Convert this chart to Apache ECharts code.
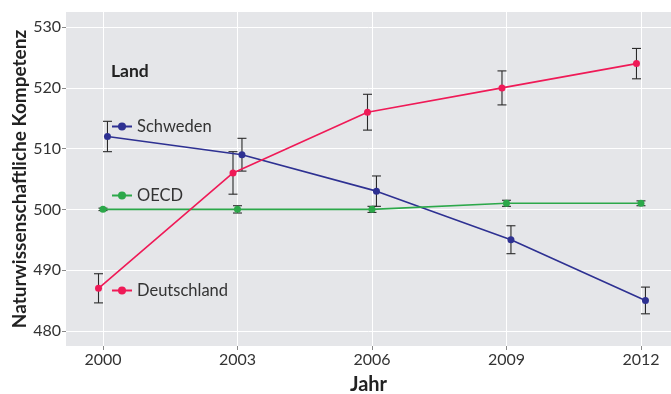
<!DOCTYPE html>
<html><head><meta charset="utf-8">
<script src="https://cdn.jsdelivr.net/npm/echarts@6/dist/echarts.min.js"></script>
<style>html,body{margin:0;padding:0;background:#fff}#c{width:671px;height:394px}</style>
</head><body><div id="c"></div>
<script>
const years = [2000, 2003, 2006, 2009, 2012];
const xTicks = [2000, 2003, 2006, 2009, 2012];
const yTicks = [480, 490, 500, 510, 520, 530];
const schweden = [512, 509, 503, 495, 485];
const schwedenErr = [2.5, 2.7, 2.5, 2.3, 2.2];
const oecd = [500, 500, 500, 501, 501];
const oecdErr = [0.2, 0.6, 0.5, 0.5, 0.4];
const deutschland = [487, 506, 516, 520, 524];
const deutschlandErr = [2.4, 3.5, 2.95, 2.8, 2.5];
const dodge = {Schweden: 0.1, OECD: 0, Deutschland: -0.1};

const colors = {Schweden: '#2E3192', OECD: '#2CA84A', Deutschland: '#EF1A57'};
const FONT = 'Lato';

function pts(vals, off) { return years.map((y, i) => [y + off, vals[i]]); }
function errs(vals, e, off) { return years.map((y, i) => [y + off, vals[i] - e[i], vals[i] + e[i]]); }

function errSeries(name, vals, e) {
  return {
    type: 'custom', name: name + '_err', z: 1,
    data: errs(vals, e, dodge[name]),
    renderItem: function (params, api) {
      const x = api.value(0), lo = api.value(1), hi = api.value(2);
      const a = api.coord([x, lo]), b = api.coord([x, hi]);
      const hw = 4.5;
      const st = {stroke: '#2a2a2a', lineWidth: 1.1};
      return {type: 'group', children: [
        {type: 'line', shape: {x1: a[0], y1: a[1], x2: b[0], y2: b[1]}, style: st},
        {type: 'line', shape: {x1: a[0] - hw, y1: a[1], x2: a[0] + hw, y2: a[1]}, style: st},
        {type: 'line', shape: {x1: b[0] - hw, y1: b[1], x2: b[0] + hw, y2: b[1]}, style: st}
      ]};
    },
    silent: true
  };
}
function lineSeries(name, vals) {
  return {
    type: 'line', name: name, z: 3,
    data: pts(vals, dodge[name]),
    symbol: 'circle', symbolSize: 7, showSymbol: true,
    lineStyle: {width: 1.6, color: colors[name]},
    itemStyle: {color: colors[name]},
    emphasis: {disabled: true}, animation: false
  };
}
function legendFor(name, top) {
  return {
    data: [name], left: 111, top: top, padding: 0,
    itemWidth: 20, itemHeight: 10, itemGap: 0,
    textStyle: {fontFamily: FONT, fontSize: 16.5, color: '#333', padding: [0, 0, 0, 0]},
    selectedMode: false
  };
}

const chart = echarts.init(document.getElementById('c'), null, {renderer: 'canvas'});
chart.setOption({
  animation: false,
  textStyle: {fontFamily: FONT},
  grid: {left: 66, right: 0, top: 12, bottom: 48, show: true, backgroundColor: '#E5E6E9', borderWidth: 0,
         containLabel: false, outerBoundsMode: 'none'},
  xAxis: {
    type: 'value', min: 1999.175, max: 2012.67,
    name: 'Jahr', nameLocation: 'middle', nameGap: 29,
    nameTextStyle: {fontFamily: FONT, fontSize: 20, fontWeight: 'bold', color: '#222'},
    axisLine: {show: false},
    axisTick: {show: true, length: 4, lineStyle: {color: '#888'}, customValues: xTicks},
    axisLabel: {customValues: xTicks, fontFamily: FONT, fontSize: 16, color: '#333', margin: 6, formatter: v => String(v)},
    splitLine: {show: true, lineStyle: {color: '#fff', width: 1}}
  },
  yAxis: {
    type: 'value', min: 477.5, max: 532.5,
    name: 'Naturwissenschaftliche Kompetenz', nameLocation: 'middle', nameGap: 37, nameMoveOverlap: false,
    nameTextStyle: {fontFamily: FONT, fontSize: 19, fontWeight: 'bold', color: '#222'},
    axisLine: {show: false},
    axisTick: {show: true, length: 4, lineStyle: {color: '#888'}, customValues: yTicks},
    axisLabel: {customValues: yTicks, fontFamily: FONT, fontSize: 16, color: '#333', margin: 5},
    splitLine: {show: true, lineStyle: {color: '#fff', width: 1}}
  },
  legend: [legendFor('Schweden', 118), legendFor('OECD', 187), legendFor('Deutschland', 282)],
  graphic: [{type: 'text', left: 111, top: 62, style: {text: 'Land', font: 'bold 17.5px ' + FONT, fill: '#222'}}],
  series: [
    errSeries('Schweden', schweden, schwedenErr),
    errSeries('OECD', oecd, oecdErr),
    errSeries('Deutschland', deutschland, deutschlandErr),
    lineSeries('Schweden', schweden),
    lineSeries('OECD', oecd),
    lineSeries('Deutschland', deutschland)
  ]
});
</script></body></html>
